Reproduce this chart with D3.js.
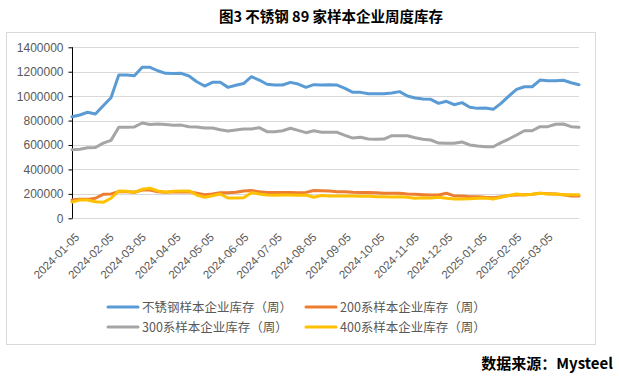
<!DOCTYPE html>
<html><head><meta charset="utf-8">
<script src="https://cdn.jsdelivr.net/npm/d3@7"></script>
<style>
html,body{margin:0;padding:0;background:#fff;}
svg{display:block;}
</style></head>
<body>
<svg id="c" width="619" height="383"></svg>
<script>
const dates = [
"2024-01-05","2024-01-12","2024-01-19","2024-01-26","2024-02-02","2024-02-09","2024-02-16","2024-02-23",
"2024-03-01","2024-03-08","2024-03-15","2024-03-22","2024-03-29","2024-04-05","2024-04-12","2024-04-19",
"2024-04-26","2024-05-03","2024-05-10","2024-05-17","2024-05-24","2024-05-31","2024-06-07","2024-06-14",
"2024-06-21","2024-06-28","2024-07-05","2024-07-12","2024-07-19","2024-07-26","2024-08-02","2024-08-09",
"2024-08-16","2024-08-23","2024-08-30","2024-09-06","2024-09-13","2024-09-20","2024-09-27","2024-10-04",
"2024-10-11","2024-10-18","2024-10-25","2024-11-01","2024-11-08","2024-11-15","2024-11-22","2024-11-29",
"2024-12-06","2024-12-13","2024-12-20","2024-12-27","2025-01-03","2025-01-10","2025-01-17","2025-01-24",
"2025-01-31","2025-02-07","2025-02-14","2025-02-21","2025-02-28","2025-03-07","2025-03-14","2025-03-21",
"2025-03-28","2025-04-04"];

const totalStock = [832000,846000,868000,854000,922000,987000,1173000,1173000,1167000,1236000,1236000,1208000,1187000,1185000,1187000,1165000,1118000,1083000,1113000,1113000,1072000,1089000,1103000,1159000,1132000,1097000,1091000,1091000,1113000,1099000,1072000,1094000,1091000,1094000,1091000,1064000,1031000,1031000,1020000,1020000,1020000,1026000,1037000,1001000,985000,977000,974000,941000,958000,930000,947000,909000,900000,903000,892000,941000,1001000,1056000,1077000,1077000,1132000,1127000,1127000,1130000,1110000,1094000];
const s200Stock = [150000,155000,155000,164000,196000,199000,218000,218000,213000,232000,232000,218000,213000,218000,215000,218000,205000,193000,199000,210000,210000,213000,224000,227000,218000,212000,212000,212000,212000,210000,212000,227000,225000,224000,218000,218000,213000,212000,212000,210000,205000,205000,205000,199000,196000,193000,191000,191000,205000,183000,183000,177000,177000,172000,169000,177000,186000,191000,193000,196000,205000,202000,199000,193000,183000,183000];
const s300Stock = [562000,565000,578000,580000,615000,638000,745000,745000,748000,780000,768000,773000,767000,761000,763000,750000,747000,739000,739000,725000,715000,723000,732000,731000,742000,709000,709000,717000,737000,720000,701000,717000,704000,704000,704000,679000,657000,663000,649000,647000,649000,676000,676000,676000,659000,647000,641000,616000,614000,614000,625000,600000,592000,586000,586000,619000,649000,682000,717000,717000,750000,750000,770000,772000,750000,745000];
const s400Stock = [133000,150000,150000,136000,131000,164000,224000,221000,213000,237000,246000,224000,213000,221000,224000,224000,191000,172000,185000,199000,166000,166000,169000,210000,199000,191000,188000,191000,191000,188000,191000,172000,187000,183000,183000,183000,183000,180000,183000,177000,177000,175000,177000,172000,164000,169000,166000,172000,164000,158000,158000,161000,164000,166000,158000,172000,186000,199000,191000,196000,205000,199000,199000,193000,193000,193000];

const seriesNames = ["不锈钢样本企业库存（周）","200系样本企业库存（周）","300系样本企业库存（周）","400系样本企业库存（周）"];
const seriesColors = ["#5B9BD5","#ED7D31","#A5A5A5","#FFC000"];
const yTicks = [0,200000,400000,600000,800000,1000000,1200000,1400000];
const xTickLabels = ["2024-01-05","2024-02-05","2024-03-05","2024-04-05","2024-05-05","2024-06-05","2024-07-05",
"2024-08-05","2024-09-05","2024-10-05","2024-11-05","2024-12-05","2025-01-05","2025-02-05","2025-03-05"];
const titleText = "图3 不锈钢 89 家样本企业周度库存";
const sourceText = "数据来源：Mysteel";

const parse = d3.utcParse("%Y-%m-%d");
const svg = d3.select("#c");
const cjk = "'Noto Sans CJK SC','Noto Sans',sans-serif";

// frame
svg.append("rect").attr("x",6.5).attr("y",32.5).attr("width",589).attr("height",312)
  .attr("fill","#fff").attr("stroke","#D9D9D9").attr("stroke-width",1);

svg.append("text").attr("x",331).attr("y",22).attr("text-anchor","middle")
  .attr("font-family",cjk).attr("font-weight","bold").attr("font-size",14.5).attr("fill","#000")
  .text(titleText);

svg.append("text").attr("x",613).attr("y",369).attr("text-anchor","end")
  .attr("font-family",cjk).attr("font-weight","bold").attr("font-size",15).attr("fill","#000")
  .text(sourceText);

const x = d3.scaleUtc().domain([parse(dates[0]), parse(dates[dates.length-1])]).range([72,579]);
const y = d3.scaleLinear().domain([0,1400000]).range([218.3,47.3]);

// gridlines
svg.append("g").selectAll("line").data(yTicks).join("line")
  .attr("x1",72).attr("x2",579).attr("y1",d=>Math.round(y(d))+0.5).attr("y2",d=>Math.round(y(d))+0.5)
  .attr("stroke","#D9D9D9").attr("stroke-width",1);

// y axis
const yAxis = d3.axisLeft(y).tickValues(yTicks).tickSize(4).tickPadding(5).tickFormat(d3.format("d"));
const gy = svg.append("g").attr("transform","translate(72.5,0)").call(yAxis);
gy.select(".domain").attr("stroke","#000").attr("d","M0,"+y(1400000)+"V"+y(0));
gy.selectAll(".tick line").attr("stroke","#000");
gy.selectAll(".tick text").attr("fill","#595959").attr("font-size",12).attr("font-family","'Liberation Sans',sans-serif");

// x axis labels
const gx = svg.append("g");
gx.selectAll("text").data(xTickLabels).join("text")
  .attr("transform",d=>`translate(${x(parse(d))+8},${238}) rotate(-45)`)
  .attr("text-anchor","end").attr("font-size",11.5).attr("fill","#595959")
  .attr("font-family","'Liberation Sans',sans-serif").text(d=>d);

// lines
const allSeries = [totalStock, s200Stock, s300Stock, s400Stock];
const line = d3.line().x((d,i)=>x(parse(dates[i]))).y(d=>y(d));
allSeries.forEach((s,k)=>{
  svg.append("path").datum(s).attr("d",line).attr("fill","none")
    .attr("stroke",seriesColors[k]).attr("stroke-width",3)
    .attr("stroke-linejoin","round").attr("stroke-linecap","round");
});

// legend
const legPos = [[108,307],[306,307],[108,327],[306,327]];
seriesNames.forEach((n,k)=>{
  const g = svg.append("g").attr("transform",`translate(${legPos[k][0]},${legPos[k][1]})`);
  g.append("line").attr("x1",0).attr("x2",30).attr("y1",0).attr("y2",0)
    .attr("stroke",seriesColors[k]).attr("stroke-width",3).attr("stroke-linecap","round");
  g.append("text").attr("x",34).attr("y",4.5).attr("font-size",12.5).attr("fill","#595959")
    .attr("font-family",cjk).text(n);
});
</script>
</body></html>
